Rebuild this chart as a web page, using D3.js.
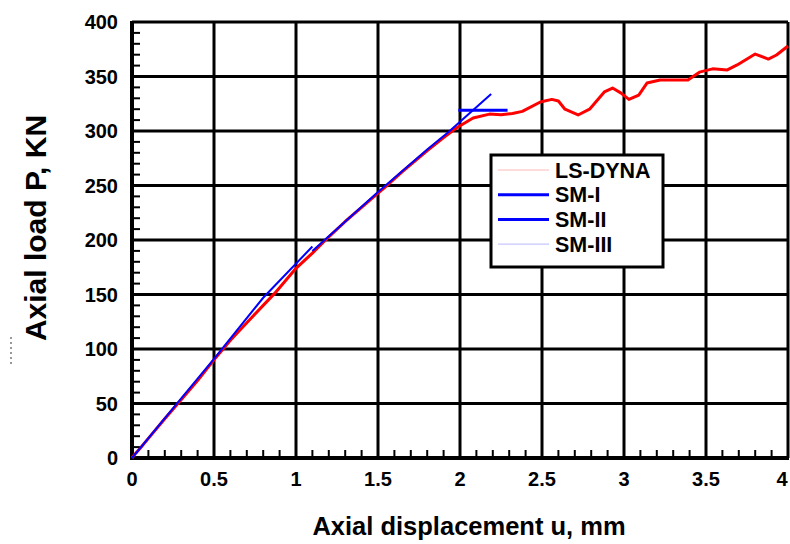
<!DOCTYPE html>
<html><head><meta charset="utf-8">
<script src="https://cdn.jsdelivr.net/npm/d3@7"></script>
<style>body{margin:0;background:#fff;} text{font-family:"Liberation Sans",Arial,sans-serif;font-weight:bold;fill:#000;}</style>
</head><body>
<svg id="chart" width="790" height="544"></svg>
<script>
const xTicks = [0, 0.5, 1, 1.5, 2, 2.5, 3, 3.5, 4];
const xTickLabels = ["0", "0.5", "1", "1.5", "2", "2.5", "3", "3.5", "4"];
const yTicks = [0, 50, 100, 150, 200, 250, 300, 350, 400];
const seriesNames = ["LS-DYNA", "SM-I", "SM-II", "SM-III"];

const lsDyna = [[0,0],[0.02,4],[0.05,9],[0.1,18],[0.2,36],[0.28,50],[0.4,71],[0.5,90],[0.6,108],[0.7,124],[0.8,140],[0.87,151],[1.0,174],[1.1,188],[1.18,200],[1.3,217],[1.4,230],[1.5,243],[1.555,250],[1.65,263],[1.8,282],[1.9,294],[1.98,303],[2.08,312],[2.18,315.5],[2.25,315],[2.32,316],[2.38,318],[2.49,326.6],[2.56,329],[2.6,327.5],[2.64,320],[2.72,314.7],[2.79,320],[2.88,335.8],[2.93,339.4],[2.98,335],[3.03,329],[3.09,333],[3.14,344],[3.22,346.8],[3.39,346.8],[3.46,354],[3.54,357],[3.63,356],[3.69,360.6],[3.8,370.6],[3.88,366],[3.93,369.7],[4.0,378]];
const smI = [[0,0],[0.28,51],[0.5,91],[0.8,147],[1.1,194]];
const smII = [[1.1,190],[1.3,217],[1.5,244],[1.8,283],[1.93,299],[2.19,334]];
const smIIPlateau = [[1.99,319],[2.29,319]];
const smIII = [[0,0],[0.5,90],[1.0,174],[1.5,243],[1.98,303]];

const svg = d3.select("#chart");
const x = d3.scaleLinear().domain([0, 4]).range([132, 788]);
const y = d3.scaleLinear().domain([0, 400]).range([458, 22]);

// grid
svg.append("g").selectAll("line").data(xTicks.slice(1)).join("line")
  .attr("x1", d => x(d)).attr("x2", d => x(d)).attr("y1", y(0)).attr("y2", y(400))
  .attr("stroke", "#000").attr("stroke-width", 3);
svg.append("g").selectAll("line").data(yTicks.slice(1)).join("line")
  .attr("x1", x(0)).attr("x2", x(4)).attr("y1", d => y(d)).attr("y2", d => y(d))
  .attr("stroke", "#000").attr("stroke-width", 3);

// minor ticks
const xMinor = d3.range(1, 40).map(i => i / 10).filter(v => Math.abs(v * 2 - Math.round(v * 2)) > 1e-6);
const yMinor = d3.range(10, 400, 10).filter(v => v % 50 !== 0);
svg.append("g").selectAll("line").data(xMinor).join("line")
  .attr("x1", d => x(d)).attr("x2", d => x(d)).attr("y1", y(0)).attr("y2", y(0) - 8)
  .attr("stroke", "#000").attr("stroke-width", 2);
svg.append("g").selectAll("line").data(yMinor).join("line")
  .attr("x1", x(0)).attr("x2", x(0) + 8).attr("y1", d => y(d)).attr("y2", d => y(d))
  .attr("stroke", "#000").attr("stroke-width", 2);

// axes lines
svg.append("line").attr("x1", x(0)).attr("x2", x(0)).attr("y1", y(0) + 2).attr("y2", y(400) - 1)
  .attr("stroke", "#000").attr("stroke-width", 4);
svg.append("line").attr("x1", x(0) - 2).attr("x2", x(4) + 1).attr("y1", y(0)).attr("y2", y(0))
  .attr("stroke", "#000").attr("stroke-width", 4);

// tick labels
svg.append("g").selectAll("text").data(xTicks).join("text")
  .attr("x", d => Math.min(x(d), 782)).attr("y", 486).attr("text-anchor", "middle")
  .style("font-size", "20px").text((d, i) => xTickLabels[i]);
svg.append("g").selectAll("text").data(yTicks).join("text")
  .attr("x", 118).attr("y", d => y(d) + 7).attr("text-anchor", "end")
  .style("font-size", "20px").text(d => d);

// axis titles
svg.append("text").attr("x", 469).attr("y", 535).attr("text-anchor", "middle")
  .style("font-size", "25.5px").text("Axial displacement u, mm");
svg.append("text").attr("transform", "translate(46,228) rotate(-90)").attr("text-anchor", "middle")
  .style("font-size", "30px").text("Axial load P, KN");
svg.append("line").attr("x1", 11).attr("x2", 11).attr("y1", 337).attr("y2", 366)
  .attr("stroke", "#333").attr("stroke-width", 1).attr("stroke-dasharray", "2,3");

// series
const line = d3.line().x(d => x(d[0])).y(d => y(d[1]));
svg.append("path").datum(smIII).attr("d", line).attr("fill", "none").attr("stroke", "#b8b8ff").attr("stroke-width", 1);
svg.append("path").datum(lsDyna).attr("d", line).attr("fill", "none").attr("stroke", "#ff0000").attr("stroke-width", 3).attr("stroke-linejoin", "round");
svg.append("path").datum(smI).attr("d", line).attr("fill", "none").attr("stroke", "#0000ff").attr("stroke-width", 2);
svg.append("path").datum(smII).attr("d", line).attr("fill", "none").attr("stroke", "#0000ff").attr("stroke-width", 2);
svg.append("path").datum(smIIPlateau).attr("d", line).attr("fill", "none").attr("stroke", "#0000ff").attr("stroke-width", 3);

// legend
const lg = svg.append("g");
lg.append("rect").attr("x", 491).attr("y", 155).attr("width", 172).attr("height", 112)
  .attr("fill", "#fff").attr("stroke", "#000").attr("stroke-width", 3);
const legendStyles = [
  {c: "#ffb8b8", w: 1}, {c: "#0000ff", w: 3}, {c: "#0000ff", w: 3}, {c: "#b8b8ff", w: 1}
];
seriesNames.forEach((n, i) => {
  const yy = 170 + i * 24.7;
  lg.append("line").attr("x1", 498).attr("x2", 549).attr("y1", yy).attr("y2", yy)
    .attr("stroke", legendStyles[i].c).attr("stroke-width", legendStyles[i].w);
  lg.append("text").attr("x", 555).attr("y", yy + 7.5).style("font-size", "21.5px").text(n);
});
</script>
</body></html>
